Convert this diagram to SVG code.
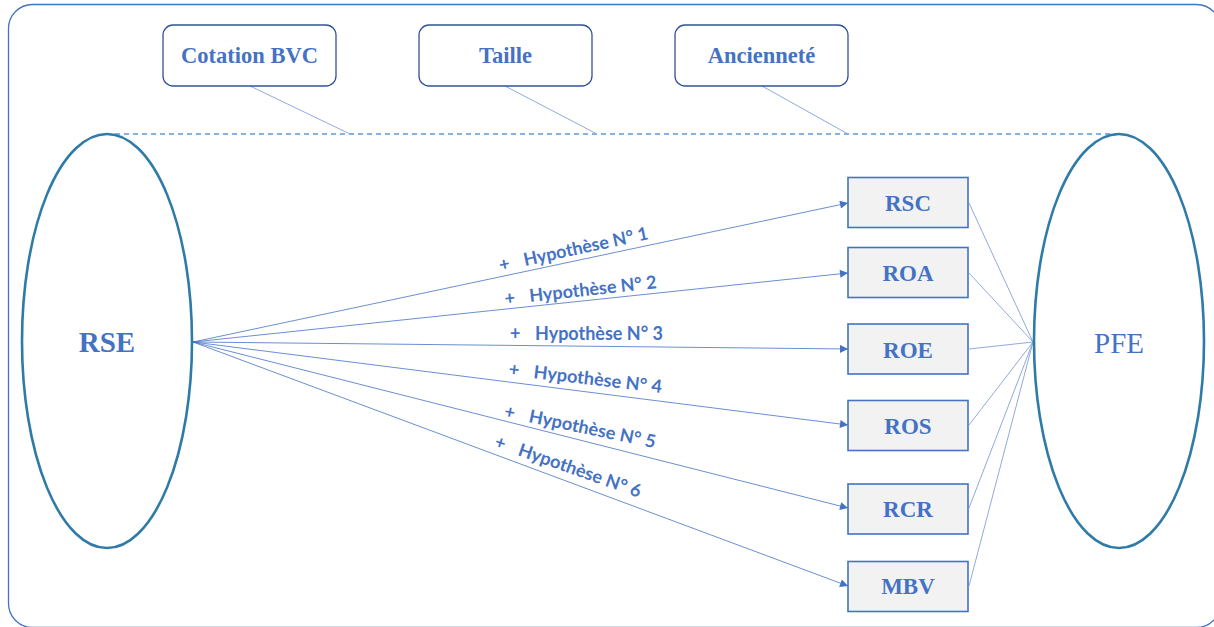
<svg xmlns="http://www.w3.org/2000/svg" width="1214" height="627" viewBox="0 0 1214 627">
<style>
.frame{fill:#fff;stroke:#4472C4;stroke-width:1.3}
.ell{fill:none;stroke:#2F7BA8;stroke-width:2.6}
.tbox{fill:#fff;stroke:#2F5597;stroke-width:1.3}
.rbox{fill:#F2F2F2;stroke:#4472C4;stroke-width:1.6}
.tt{font-family:"Liberation Serif",serif;font-weight:bold;font-size:22.5px;fill:#4472C4;text-anchor:middle}
.bt{font-family:"Liberation Serif",serif;font-weight:bold;font-size:23px;fill:#4472C4;text-anchor:middle}
.arr{stroke:#4472C4;stroke-width:0.8;fill:none}
.thin{stroke:#8FAADC;stroke-width:1;fill:none}
.hyp{font-family:Lato,"Liberation Sans",sans-serif;font-weight:bold;font-size:18px;fill:#4472C4}
</style>
<defs>
<marker id="ah" viewBox="0 0 10 10" refX="10" refY="5" markerWidth="10" markerHeight="8" markerUnits="userSpaceOnUse" orient="auto">
<path d="M0,0 L10,5 L0,10 z" fill="#4472C4"/>
</marker>
</defs>
<rect class="frame" x="8.5" y="4.5" width="1212" height="623" rx="24"/>
<g id="connectors">
<line x1="115" y1="134" x2="1120" y2="134" stroke="#5B9BD5" stroke-width="1.3" stroke-dasharray="5,4"/>
<line class="thin" x1="250" y1="86" x2="350" y2="134"/>
<line class="thin" x1="505" y1="86" x2="597" y2="134"/>
<line class="thin" x1="762" y1="86" x2="848" y2="134"/>
<line class="arr" x1="193" y1="342" x2="848" y2="203" marker-end="url(#ah)"/>
<line class="arr" x1="193" y1="342" x2="848" y2="273" marker-end="url(#ah)"/>
<line class="arr" x1="193" y1="342" x2="848" y2="349" marker-end="url(#ah)"/>
<line class="arr" x1="193" y1="342" x2="848" y2="425" marker-end="url(#ah)"/>
<line class="arr" x1="193" y1="342" x2="848" y2="508" marker-end="url(#ah)"/>
<line class="arr" x1="193" y1="342" x2="848" y2="586" marker-end="url(#ah)"/>
<line class="thin" x1="969" y1="203" x2="1033" y2="342"/>
<line class="thin" x1="969" y1="273" x2="1033" y2="342"/>
<line class="thin" x1="969" y1="349" x2="1033" y2="342"/>
<line class="thin" x1="969" y1="425" x2="1033" y2="342"/>
<line class="thin" x1="969" y1="508" x2="1033" y2="342"/>
<line class="thin" x1="969" y1="586" x2="1033" y2="342"/>
<g transform="translate(525,266) rotate(-12.2)"><text class="hyp"><tspan x="-25">+</tspan><tspan x="0" textLength="127" lengthAdjust="spacingAndGlyphs">Hypothèse N° 1</tspan></text></g>
<g transform="translate(530,302) rotate(-6.2)"><text class="hyp"><tspan x="-25">+</tspan><tspan x="0" textLength="128" lengthAdjust="spacingAndGlyphs">Hypothèse N° 2</tspan></text></g>
<g transform="translate(535,340)"><text class="hyp"><tspan x="-25">+</tspan><tspan x="0" textLength="128" lengthAdjust="spacingAndGlyphs">Hypothèse N° 3</tspan></text></g>
<g transform="translate(533,378) rotate(6.7)"><text class="hyp"><tspan x="-25">+</tspan><tspan x="0" textLength="129" lengthAdjust="spacingAndGlyphs">Hypothèse N° 4</tspan></text></g>
<g transform="translate(528,422) rotate(11.7)"><text class="hyp"><tspan x="-25">+</tspan><tspan x="0" textLength="129" lengthAdjust="spacingAndGlyphs">Hypothèse N° 5</tspan></text></g>
<g transform="translate(517,455) rotate(19.3)"><text class="hyp"><tspan x="-25">+</tspan><tspan x="0" textLength="129" lengthAdjust="spacingAndGlyphs">Hypothèse N° 6</tspan></text></g>
</g>
<g id="rse">
<ellipse class="ell" cx="107" cy="341" rx="85" ry="207"/>
<text x="107" y="352" font-family="Liberation Serif,serif" font-weight="bold" font-size="29" fill="#4472C4" text-anchor="middle">RSE</text>
</g>
<g id="pfe">
<ellipse class="ell" cx="1119" cy="341" rx="85" ry="207"/>
<text x="1119" y="353" font-family="Liberation Serif,serif" font-size="29" fill="#4472C4" text-anchor="middle">PFE</text>
</g>
<g id="cotation"><rect class="tbox" x="163" y="25" width="173" height="61" rx="10"/><text class="tt" x="249.5" y="63">Cotation BVC</text></g>
<g id="taille"><rect class="tbox" x="419" y="25" width="173" height="61" rx="10"/><text class="tt" x="505.5" y="63">Taille</text></g>
<g id="anciennete"><rect class="tbox" x="675" y="25" width="173" height="61" rx="10"/><text class="tt" x="761.5" y="63">Ancienneté</text></g>
<g id="rsc"><rect class="rbox" x="848" y="177.5" width="120" height="50"/><text class="bt" x="908" y="211">RSC</text></g>
<g id="roa"><rect class="rbox" x="848" y="247.5" width="120" height="50"/><text class="bt" x="908" y="281">ROA</text></g>
<g id="roe"><rect class="rbox" x="848" y="324" width="120" height="50"/><text class="bt" x="908" y="358">ROE</text></g>
<g id="ros"><rect class="rbox" x="848" y="400.5" width="120" height="50"/><text class="bt" x="908" y="434">ROS</text></g>
<g id="rcr"><rect class="rbox" x="848" y="484" width="120" height="50"/><text class="bt" x="908" y="517">RCR</text></g>
<g id="mbv"><rect class="rbox" x="848" y="561.5" width="120" height="50"/><text class="bt" x="908" y="594">MBV</text></g>
</svg>
